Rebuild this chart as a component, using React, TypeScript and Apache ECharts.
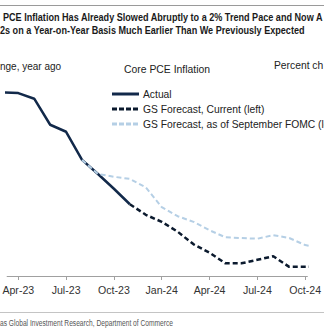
import React, { useEffect, useRef } from "react";
import * as echarts from "echarts";

// Month labels (index 0 = Mar-23)
const months = [
  "Mar-23", "Apr-23", "May-23", "Jun-23", "Jul-23", "Aug-23", "Sep-23", "Oct-23", "Nov-23",
  "Dec-23", "Jan-24", "Feb-24", "Mar-24", "Apr-24", "May-24", "Jun-24", "Jul-24", "Aug-24",
  "Sep-24", "Oct-24", "Nov-24",
];
const tickLabels = ["Apr-23", "Jul-23", "Oct-23", "Jan-24", "Apr-24", "Jul-24", "Oct-24"];

// Core PCE inflation, % yoy
const actual = [4.71, 4.7, 4.62, 4.25, 4.15, 3.75, 3.55, 3.34, 3.12, null, null, null, null, null, null, null, null, null, null, null, null];
const gsCurrent = [null, null, null, null, null, null, null, null, 3.12, 2.97, 2.87, 2.73, 2.55, 2.43, 2.28, 2.28, 2.33, 2.38, 2.23, 2.23, 2.23];
const gsSeptember = [null, null, null, null, null, 3.75, 3.55, 3.51, 3.48, 3.36, 3.08, 2.95, 2.87, 2.75, 2.65, 2.64, 2.63, 2.68, 2.64, 2.54, 2.5];

const seriesNames = ["Actual", "GS Forecast, Current (left)", "GS Forecast, as of September FOMC (left)"];
const seriesColors = ["#12294a", "#0b1a2e", "#b5cfe5"];

const toPoints = (arr: (number | null)[]) =>
  arr.map((v, i) => (v == null ? null : [i, v])).filter((p) => p !== null) as number[][];

const tickValues = tickLabels.map((l) => months.indexOf(l));

export default function App() {
  const ref = useRef<HTMLDivElement>(null);
  useEffect(() => {
    if (!ref.current) return;
    const chart = echarts.init(ref.current, null, { renderer: "svg" });
    const body = "'Liberation Sans', Arial, sans-serif";
    const legendRows = [94, 109, 124];
    const legendDash = [null, [5, 2], [5, 2]];
    const legendGraphics: any[] = [];
    seriesNames.forEach((name, i) => {
      legendGraphics.push({
        type: "line",
        shape: { x1: 112, y1: legendRows[i], x2: 139, y2: legendRows[i] },
        style: {
          stroke: seriesColors[i],
          lineWidth: 3,
          lineDash: legendDash[i] || undefined,
        },
      });
      legendGraphics.push({
        type: "text",
        x: 143,
        y: legendRows[i],
        style: { text: name, font: `10.3px ${body}`, fill: "#222", verticalAlign: "middle" },
      });
    });
    chart.setOption({
      animation: false,
      backgroundColor: "#ffffff",
      grid: { left: 0, right: 0, top: 79, bottom: 53, containLabel: false },
      xAxis: {
        type: "value",
        min: 0.3,
        max: 19.14,
        axisLine: { show: true, lineStyle: { color: "#a0a0a0", width: 1 } },
        axisTick: { show: true, length: 4, customValues: tickValues, lineStyle: { color: "#a0a0a0" } },
        axisLabel: {
          customValues: tickValues,
          formatter: (v: number) => months[Math.round(v)],
          color: "#333",
          fontFamily: body,
          fontSize: 10.6,
          margin: 8,
        },
        splitLine: { show: false },
      },
      yAxis: { type: "value", min: 2.1, max: 4.9, show: false },
      series: [
        {
          name: seriesNames[0],
          type: "line",
          data: toPoints(actual),
          symbol: "none",
          lineStyle: { color: seriesColors[0], width: 2.5 },
          z: 3,
        },
        {
          name: seriesNames[2],
          type: "line",
          data: toPoints(gsSeptember),
          symbol: "none",
          lineStyle: { color: seriesColors[2], width: 2, type: [5, 3] },
          z: 4,
        },
        {
          name: seriesNames[1],
          type: "line",
          data: toPoints(gsCurrent),
          symbol: "none",
          lineStyle: { color: seriesColors[1], width: 2.5, type: [5, 3] },
          z: 5,
        },
      ],
      graphic: [
        { type: "line", shape: { x1: 0, y1: 5.5, x2: 324, y2: 5.5 }, style: { stroke: "#9a9a9a", lineWidth: 1 } },
        {
          type: "text",
          x: 3,
          y: 17,
          scaleX: 0.79,
          style: {
            text: "PCE Inflation Has Already Slowed Abruptly to a 2% Trend Pace and Now A",
            font: `bold 11.5px ${body}`,
            fill: "#1a1a1a",
            verticalAlign: "middle",
          },
        },
        {
          type: "text",
          x: 0,
          y: 30,
          scaleX: 0.79,
          style: {
            text: "2s on a Year-on-Year Basis Much Earlier Than We Previously Expected",
            font: `bold 11.5px ${body}`,
            fill: "#1a1a1a",
            verticalAlign: "middle",
          },
        },
        {
          type: "text",
          x: 0,
          y: 66,
          style: { text: "nge, year ago", font: `10px ${body}`, fill: "#222", verticalAlign: "middle" },
        },
        {
          type: "text",
          x: 167,
          y: 69,
          style: { text: "Core PCE Inflation", font: `10.4px ${body}`, fill: "#222", align: "center", verticalAlign: "middle" },
        },
        {
          type: "text",
          x: 274,
          y: 65,
          style: { text: "Percent ch", font: `10.3px ${body}`, fill: "#222", verticalAlign: "middle" },
        },
        ...legendGraphics,
        { type: "line", shape: { x1: 0, y1: 312.5, x2: 324, y2: 312.5 }, style: { stroke: "#c4c4c4", lineWidth: 1 } },
        {
          type: "text",
          x: 0,
          y: 323,
          scaleX: 0.74,
          style: {
            text: "as Global Investment Research, Department of Commerce",
            font: `9px ${body}`,
            fill: "#555",
            verticalAlign: "middle",
          },
        },
      ],
    });
    return () => chart.dispose();
  }, []);
  return (
    <div
      ref={ref}
      style={{ position: "fixed", left: 0, top: 0, width: 324, height: 329, background: "#fff" }}
    />
  );
}
